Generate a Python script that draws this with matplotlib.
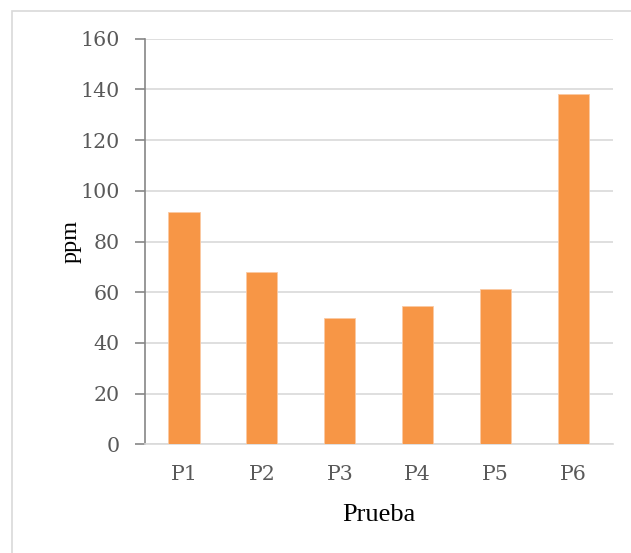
import matplotlib
matplotlib.use("Agg")
import matplotlib.pyplot as plt
from matplotlib.patches import Rectangle

categories = ["P1", "P2", "P3", "P4", "P5", "P6"]
values = [91.5, 67.9, 49.7, 54.7, 61.4, 138.2]
yticks = [0, 20, 40, 60, 80, 100, 120, 140, 160]

W, H = 631, 553
fig = plt.figure(figsize=(W / 100, H / 100), dpi=100)
fig.patch.set_facecolor("white")

# outer chart border
fig.patches.append(Rectangle((12 / W, -0.1), 1.2, 1 - 11 / H + 0.1, transform=fig.transFigure,
                             fill=False, edgecolor="#D9D9D9", linewidth=1.2, zorder=0))

ax = fig.add_axes([145 / W, 1 - 444.4 / H, (612.5 - 145) / W, (444.4 - 38.8) / H])
ax.bar(range(len(categories)), values, width=0.4, color="#F79646",
       edgecolor="#FBC9A2", linewidth=0.6, zorder=3)

ax.set_xlim(-0.5, len(categories) - 0.5)
ax.set_ylim(0, 160)
ax.set_yticks(yticks)
ax.set_xticks(range(len(categories)))
ax.set_xticklabels(categories)
ax.grid(axis="y", color="#D9D9D9", linewidth=1.2, zorder=0)
ax.set_axisbelow(True)

for s in ["top", "right"]:
    ax.spines[s].set_visible(False)
ax.spines["left"].set_color("#868686")
ax.spines["left"].set_linewidth(1.2)
ax.spines["bottom"].set_color("#D9D9D9")
ax.spines["bottom"].set_linewidth(1.2)

ax.tick_params(axis="y", length=7, width=1.2, color="#868686", pad=11,
               labelsize=14.8, labelcolor="#595959")
ax.tick_params(axis="x", length=0, pad=15, labelsize=14.8, labelcolor="#595959")
for lab in ax.get_xticklabels() + ax.get_yticklabels():
    lab.set_fontfamily("DejaVu Serif")

fig.text(379 / W, 1 - 521 / H, "Prueba", fontsize=19, fontfamily="Liberation Serif",
         color="black", ha="center", va="baseline")
fig.text(71.5 / W, 1 - 241.6 / H, "ppm", fontsize=17.5, fontfamily="Liberation Serif",
         color="black", ha="center", va="center", rotation=90)

fig.savefig("out.png", dpi=100)
